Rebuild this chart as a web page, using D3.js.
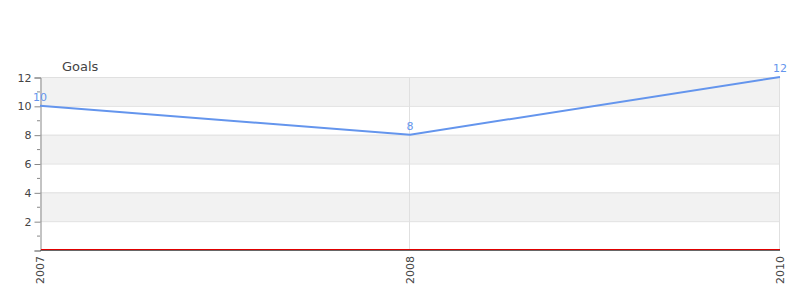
<!DOCTYPE html>
<html>
<head>
<meta charset="utf-8">
<script src="https://cdn.jsdelivr.net/npm/d3@7"></script>
<style>
  body { margin: 0; background: #fff; }
  text { font-family: "DejaVu Sans", sans-serif; }
</style>
</head>
<body>
<script>
// Data
const years = ["2007", "2008", "2010"];
const goals = [10, 8, 12];
const yTicks = [2, 4, 6, 8, 10, 12];
const minorTicks = [1, 3, 5, 7, 9, 11];
const bands = [[2, 4], [6, 8], [10, 12]];

const width = 800, height = 300;
const margin = {top: 77, right: 20, bottom: 50, left: 40};

const svg = d3.select("body").append("svg")
    .attr("width", width)
    .attr("height", height);

const x = d3.scalePoint().domain(years).range([margin.left, width - margin.right]);
const y = d3.scaleLinear().domain([0, 12]).range([height - margin.bottom, margin.top]);

// alternating bands
svg.selectAll("rect.band").data(bands).enter().append("rect")
    .attr("x", margin.left)
    .attr("width", width - margin.right - margin.left)
    .attr("y", d => y(d[1]))
    .attr("height", d => y(d[0]) - y(d[1]))
    .attr("fill", "#f2f2f2");

// horizontal grid
svg.selectAll("line.hgrid").data(yTicks).enter().append("line")
    .attr("x1", margin.left).attr("x2", width - margin.right)
    .attr("y1", d => y(d) + 0.5).attr("y2", d => y(d) + 0.5)
    .attr("stroke", "#e0e0e0");

// vertical grid
svg.selectAll("line.vgrid").data(years.slice(1)).enter().append("line")
    .attr("x1", d => x(d) - 0.5).attr("x2", d => x(d) - 0.5)
    .attr("y1", y(12)).attr("y2", y(0))
    .attr("stroke", "#e0e0e0");

// y axis
const yAxis = svg.append("g")
    .attr("transform", "translate(" + (margin.left + 0.5) + ",0.5)")
    .call(d3.axisLeft(y).tickValues([0].concat(yTicks)).tickSize(6).tickPadding(3)
        .tickFormat(d => d === 0 ? "" : d));
yAxis.select(".domain").attr("stroke", "#888");
yAxis.selectAll(".tick line").attr("stroke", "#888");
yAxis.selectAll("text").attr("fill", "#444").style("font-size", "11px");

svg.append("g").selectAll("line").data(minorTicks).enter().append("line")
    .attr("x1", margin.left - 3).attr("x2", margin.left)
    .attr("y1", d => y(d) + 0.5).attr("y2", d => y(d) + 0.5)
    .attr("stroke", "#888");

// baseline
svg.append("line")
    .attr("x1", margin.left).attr("x2", width - margin.right)
    .attr("y1", y(0) + 0.5).attr("y2", y(0) + 0.5)
    .attr("stroke", "#666");
svg.append("line")
    .attr("x1", margin.left + 1).attr("x2", width - margin.right)
    .attr("y1", y(0) - 0.5).attr("y2", y(0) - 0.5)
    .attr("stroke", "#e00000");

// x labels
svg.selectAll("text.xlab").data(years).enter().append("text")
    .attr("transform", d => "translate(" + (x(d) + 4) + "," + (y(0) + 6) + ") rotate(-90)")
    .attr("text-anchor", "end")
    .attr("fill", "#444")
    .style("font-size", "11px")
    .text(d => d);

// title
svg.append("text")
    .attr("x", 62).attr("y", 71)
    .attr("fill", "#444")
    .style("font-size", "13px")
    .text("Goals");

// line
const line = d3.line().x((d, i) => x(years[i])).y(d => y(d));
svg.append("path")
    .datum(goals)
    .attr("d", line)
    .attr("fill", "none")
    .attr("stroke", "#6495ed")
    .attr("stroke-width", 2);

// value labels
svg.selectAll("text.val").data(goals).enter().append("text")
    .attr("x", (d, i) => x(years[i]))
    .attr("y", d => y(d) - 5)
    .attr("text-anchor", "middle")
    .attr("fill", "#6495ed")
    .style("font-size", "11px")
    .text(d => d);
</script>
</body>
</html>
